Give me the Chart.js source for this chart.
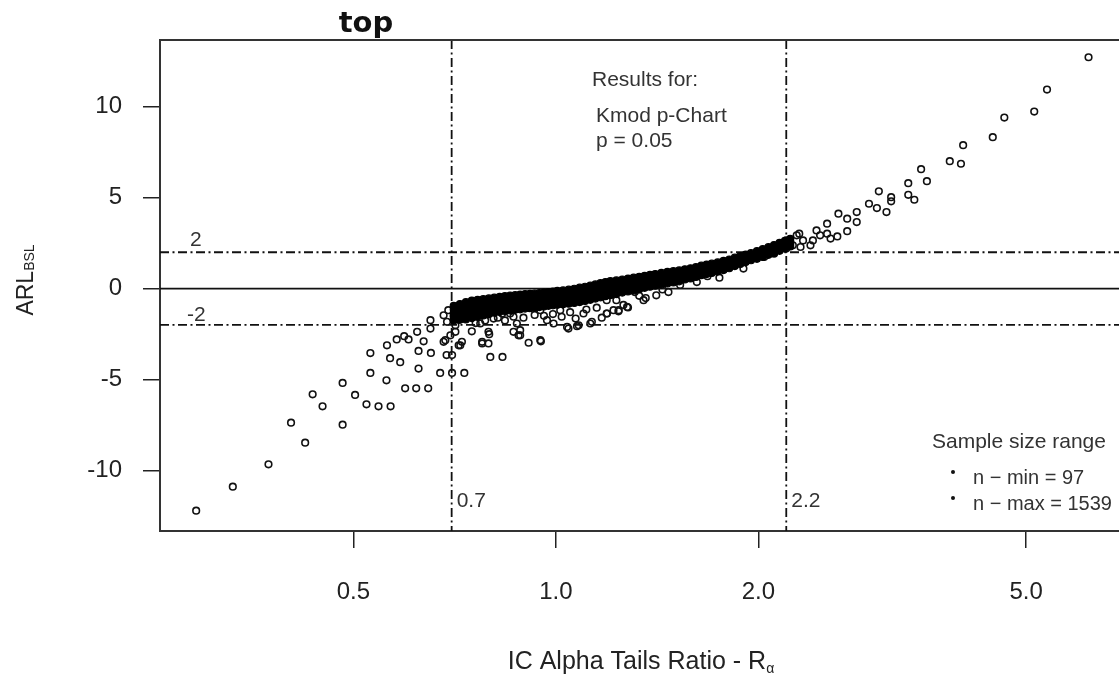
<!DOCTYPE html>
<html>
<head>
<meta charset="utf-8">
<script src="https://cdn.jsdelivr.net/npm/chart.js@4.4.1/dist/chart.umd.min.js"></script>
<style>
  html, body { margin: 0; padding: 0; background: #fff; overflow: hidden; }
  #wrap { width: 1119px; height: 681px; position: relative; }
</style>
</head>
<body>
<div id="wrap"><canvas id="scatter-chart" width="1119" height="681"></canvas></div>
<script>
// axes
const xTicks = [0.5, 1.0, 2.0, 5.0];
const yTicks = [-10, -5, 0, 5, 10];
const xLimits = [0.258, 6.87];
const yLimits = [-13.34, 13.68];
// reference lines
const refX = [0.7, 2.2];
const refY = [-2, 2];

// dense part of the cloud, one row per ratio: [x, y values...]
const bandCols = [
  [0.705, -1.75, -1.55, -1.35, -1.15, -0.95],
  [0.72, -1.72, -1.5, -1.28, -1.06, -0.85],
  [0.735, -1.7, -1.46, -1.22, -0.98, -0.75],
  [0.75, -1.62, -1.38, -1.14, -0.9, -0.66],
  [0.765, -1.55, -1.32, -1.1, -0.86, -0.62],
  [0.78, -1.48, -1.26, -1.04, -0.8, -0.58],
  [0.795, -1.4, -1.2, -0.98, -0.76, -0.54],
  [0.81, -1.33, -1.14, -0.93, -0.72, -0.5],
  [0.825, -1.28, -1.08, -0.88, -0.66, -0.46],
  [0.84, -1.24, -1.04, -0.83, -0.62, -0.42],
  [0.855, -1.2, -1.0, -0.8, -0.6, -0.38],
  [0.87, -1.17, -0.98, -0.77, -0.56, -0.36],
  [0.885, -1.14, -0.95, -0.74, -0.53, -0.33],
  [0.90, -1.1, -0.92, -0.72, -0.5, -0.3],
  [0.915, -1.08, -0.89, -0.69, -0.48, -0.29],
  [0.93, -1.05, -0.86, -0.66, -0.46, -0.27],
  [0.945, -1.02, -0.83, -0.63, -0.44, -0.25],
  [0.96, -0.98, -0.8, -0.6, -0.41, -0.22],
  [0.975, -0.95, -0.77, -0.57, -0.38, -0.19],
  [0.99, -0.92, -0.74, -0.54, -0.35, -0.16],
  [1.005, -0.89, -0.71, -0.51, -0.32, -0.13],
  [1.025, -0.86, -0.6, -0.34, -0.1],
  [1.045, -0.83, -0.57, -0.31, -0.06],
  [1.065, -0.79, -0.53, -0.27, -0.01],
  [1.085, -0.74, -0.48, -0.22, 0.05],
  [1.105, -0.68, -0.42, -0.16, 0.1],
  [1.125, -0.62, -0.36, -0.1, 0.16],
  [1.145, -0.55, -0.3, -0.04, 0.23],
  [1.165, -0.48, -0.23, 0.04, 0.3],
  [1.185, -0.42, -0.17, 0.1, 0.36],
  [1.205, -0.36, -0.11, 0.16, 0.41],
  [1.23, -0.3, -0.05, 0.2, 0.45],
  [1.255, -0.22, 0.02, 0.26, 0.5],
  [1.28, -0.16, 0.08, 0.32, 0.55],
  [1.305, -0.1, 0.14, 0.38, 0.6],
  [1.33, -0.04, 0.2, 0.44, 0.65],
  [1.355, 0.04, 0.26, 0.48, 0.7],
  [1.38, 0.1, 0.32, 0.54, 0.75],
  [1.405, 0.16, 0.38, 0.6, 0.8],
  [1.435, 0.22, 0.44, 0.66, 0.86],
  [1.465, 0.28, 0.5, 0.72, 0.92],
  [1.495, 0.34, 0.56, 0.77, 0.96],
  [1.525, 0.4, 0.62, 0.82, 1.0],
  [1.555, 0.5, 0.68, 0.88, 1.06],
  [1.585, 0.56, 0.74, 0.94, 1.12],
  [1.615, 0.64, 0.8, 1.0, 1.18],
  [1.645, 0.74, 0.9, 1.08, 1.26],
  [1.675, 0.8, 0.96, 1.14, 1.32],
  [1.705, 0.86, 1.02, 1.2, 1.37],
  [1.74, 0.94, 1.1, 1.27, 1.44],
  [1.775, 1.02, 1.18, 1.35, 1.52],
  [1.81, 1.12, 1.27, 1.44, 1.6],
  [1.845, 1.24, 1.38, 1.54, 1.7],
  [1.88, 1.36, 1.5, 1.64, 1.79],
  [1.915, 1.46, 1.6, 1.74, 1.87],
  [1.95, 1.56, 1.68, 1.82, 1.95],
  [1.99, 1.64, 1.78, 1.93, 2.06],
  [2.03, 1.74, 1.88, 2.03, 2.17],
  [2.07, 1.86, 1.99, 2.14, 2.28],
  [2.11, 1.96, 2.1, 2.25, 2.4],
  [2.15, 2.08, 2.22, 2.37, 2.52],
  [2.19, 2.2, 2.34, 2.49, 2.63],
  [2.23, 2.32, 2.46, 2.6, 2.74]
];

// single (hollow) points: [x, y]
const lowPts = [
  [0.292, -12.22], [0.331, -10.9], [0.374, -9.67], [0.404, -7.38], [0.424, -8.48],
  [0.435, -5.82], [0.450, -6.48], [0.482, -5.19], [0.482, -7.49], [0.503, -5.85],
  [0.523, -6.37], [0.545, -6.48], [0.568, -6.48], [0.530, -3.55], [0.530, -4.64],
  [0.560, -5.05], [0.561, -3.12], [0.567, -3.83], [0.587, -4.05], [0.580, -2.80],
  [0.595, -2.62], [0.604, -2.80], [0.597, -5.49], [0.620, -5.49], [0.646, -5.49],
  [0.625, -3.43], [0.625, -4.40], [0.652, -3.54], [0.673, -4.64], [0.701, -4.64],
  [0.731, -4.64], [0.688, -3.66], [0.701, -3.66], [0.636, -2.90], [0.622, -2.38],
  [0.651, -2.20], [0.681, -2.93], [0.717, -3.12], [0.799, -3.76], [0.833, -3.76],
  [0.796, -2.51], [0.777, -3.02], [0.911, -2.98], [0.950, -2.90], [0.865, -2.38],
  [0.885, -2.57], [0.750, -2.35], [1.039, -2.11], [1.081, -2.02], [1.125, -1.92],
  [1.191, -1.37], [1.239, -1.25], [1.276, -1.01],
  [0.651, -1.74], [0.681, -1.47], [0.692, -1.19], [0.709, -2.02], [0.697, -2.57],
  [0.721, -3.12], [0.689, -1.83], [0.685, -2.84], [0.709, -2.38], [0.705, -1.47],
  [0.725, -2.93], [0.729, -1.10], [0.772, -1.92], [0.794, -2.38], [0.777, -2.93],
  [0.794, -3.02], [0.808, -1.65], [0.832, -1.37], [0.855, -1.37], [0.875, -1.92],
  [0.885, -2.29], [0.880, -2.57], [0.948, -2.84], [0.970, -1.74], [0.992, -1.92],
  [1.044, -2.20], [1.075, -2.07], [1.099, -1.37], [1.131, -1.83], [1.218, -1.19],
  [1.015, -1.19], [0.916, -1.01], [0.948, -1.19], [0.799, -1.19],
  [0.76, -1.9], [0.785, -1.75], [0.82, -1.6], [0.84, -1.75], [0.865, -1.55],
  [0.895, -1.6], [0.93, -1.45], [0.96, -1.5], [0.99, -1.4], [1.02, -1.55],
  [1.05, -1.3], [1.07, -1.65], [1.11, -1.15], [1.15, -1.05], [1.17, -1.6],
  [1.26, -0.9], [1.33, -0.4], [1.44, -0.05], [1.53, 0.2], [1.75, 0.6], [1.9, 1.1],
  [1.62, 0.36], [1.47, -0.19], [1.41, -0.37], [1.35, -0.64], [1.28, -1.04],
  [1.24, -1.19], [1.19, -1.37], [1.23, -0.64], [1.19, -0.64], [1.31, -0.19],
  [1.68, 0.68], [1.36, -0.52]
];

const highPts = [
  [6.19, 12.73], [5.37, 10.95], [5.14, 9.74], [4.64, 9.41], [4.46, 8.33],
  [4.03, 7.89], [3.85, 7.01], [4.00, 6.87], [3.49, 6.57], [3.56, 5.91],
  [3.34, 5.80], [3.34, 5.16], [3.41, 4.89], [3.15, 5.03], [3.15, 4.80],
  [3.02, 5.35], [2.92, 4.67], [3.00, 4.43], [3.10, 4.21], [2.80, 4.21],
  [2.71, 3.85], [2.80, 3.66], [2.71, 3.16], [2.63, 4.12], [2.62, 2.87],
  [2.53, 3.02], [2.53, 3.57], [2.56, 2.75], [2.44, 3.20], [2.47, 2.93],
  [2.41, 2.65], [2.30, 3.02], [2.33, 2.65], [2.39, 2.38], [2.31, 2.29],
  [2.20, 2.65], [2.20, 2.20], [2.11, 1.92], [2.04, 1.74], [2.00, 2.01],
  [2.28, 2.93], [2.25, 2.38]
];

const FONT = "'Liberation Sans', Arial, sans-serif";

function drawAnnotations() {
  return {
    id: 'annotations',
    beforeDatasetsDraw(chart) {
      const { ctx, chartArea: a, scales: { x, y } } = chart;
      ctx.save();
      ctx.beginPath();
      ctx.rect(a.left, a.top, a.right - a.left, a.bottom - a.top);
      ctx.clip();
      ctx.strokeStyle = '#111';
      ctx.lineWidth = 1.8;

      const y0 = y.getPixelForValue(0);
      ctx.beginPath();
      ctx.moveTo(a.left, y0);
      ctx.lineTo(a.right, y0);
      ctx.stroke();

      ctx.setLineDash([9, 3.5, 2, 3.5]);
      refY.forEach(v => {
        const p = y.getPixelForValue(v);
        ctx.beginPath();
        ctx.moveTo(a.left, p);
        ctx.lineTo(a.right, p);
        ctx.stroke();
      });
      refX.forEach(v => {
        const p = x.getPixelForValue(v);
        ctx.beginPath();
        ctx.moveTo(p, a.top);
        ctx.lineTo(p, a.bottom);
        ctx.stroke();
      });
      ctx.restore();
    },
    afterDraw(chart) {
      const { ctx, chartArea: a, scales: { x, y } } = chart;
      ctx.save();

      // top of the box
      ctx.strokeStyle = '#333';
      ctx.lineWidth = 2;
      ctx.beginPath();
      ctx.moveTo(a.left - 1, a.top);
      ctx.lineTo(a.right, a.top);
      ctx.stroke();

      // title
      ctx.fillStyle = '#111';
      ctx.font = "bold 29px 'DejaVu Sans', sans-serif";
      ctx.textAlign = 'center';
      ctx.textBaseline = 'alphabetic';
      ctx.fillText('top', 366, 32);

      // labels for reference lines
      ctx.fillStyle = '#333';
      ctx.font = '21px ' + FONT;
      ctx.textAlign = 'left';
      ctx.fillText('2', 190, y.getPixelForValue(2) - 6);
      ctx.fillText('-2', 187, y.getPixelForValue(-2) - 4);
      refX.forEach(v => {
        ctx.fillText(String(v), x.getPixelForValue(v) + 5, 507);
      });

      // text block
      ctx.fillText('Results for:', 592, 86);
      ctx.fillText('Kmod p-Chart', 596, 122);
      ctx.fillText('p = 0.05', 596, 147);

      // sample size note
      ctx.fillText('Sample size range', 932, 448);
      ctx.font = '20px ' + FONT;
      ctx.fillText('n \u2212 min = 97', 973, 484);
      ctx.fillText('n \u2212 max = 1539', 973, 510);
      ctx.fillStyle = '#111';
      [472, 498].forEach(py => {
        ctx.beginPath();
        ctx.arc(953, py, 2, 0, Math.PI * 2);
        ctx.fill();
      });

      // x axis title with subscript
      ctx.fillStyle = '#222';
      const xt = 'IC Alpha Tails Ratio - R';
      ctx.font = '25px ' + FONT;
      const w1 = ctx.measureText(xt).width;
      ctx.font = '14px ' + FONT;
      const w2 = ctx.measureText('\u03b1').width;
      const sx = 641 - (w1 + w2) / 2;
      ctx.font = '25px ' + FONT;
      ctx.fillText(xt, sx, 669);
      ctx.font = '14px ' + FONT;
      ctx.fillText('\u03b1', sx + w1, 673);

      // y axis title with subscript
      ctx.translate(24, 280);
      ctx.rotate(-Math.PI / 2);
      ctx.font = '23px ' + FONT;
      const v1 = ctx.measureText('ARL').width;
      ctx.font = '14px ' + FONT;
      const v2 = ctx.measureText('BSL').width;
      const sy = -(v1 + v2) / 2;
      ctx.font = '23px ' + FONT;
      ctx.fillText('ARL', sy, 9);
      ctx.font = '14px ' + FONT;
      ctx.fillText('BSL', sy + v1, 10);

      ctx.restore();
    }
  };
}

const bandPts = [];
bandCols.forEach(row => {
  row.slice(1).forEach(v => bandPts.push({ x: row[0], y: v }));
});
const singlePts = lowPts.concat(highPts).map(p => ({ x: p[0], y: p[1] }));

const ctx = document.getElementById('scatter-chart').getContext('2d');
const myChart = new Chart(ctx, {
  type: 'scatter',
  data: {
    datasets: [{
      label: 'dense',
      data: bandPts,
      pointStyle: 'circle',
      pointRadius: 3.5,
      pointBorderWidth: 1.2,
      pointBorderColor: '#000',
      pointBackgroundColor: '#000'
    }, {
      label: 'points',
      data: singlePts,
      pointStyle: 'circle',
      pointRadius: 3.3,
      pointBorderWidth: 1.6,
      pointBorderColor: '#111',
      pointBackgroundColor: 'rgba(0,0,0,0)'
    }]
  },
  options: {
    responsive: false,
    animation: false,
    events: [],
    layout: { autoPadding: false, padding: { top: 40, left: 0, right: 0, bottom: 0 } },
    plugins: {
      legend: { display: false },
      tooltip: { enabled: false }
    },
    scales: {
      x: {
        type: 'logarithmic',
        min: xLimits[0],
        max: xLimits[1],
        bounds: 'data',
        afterBuildTicks: s => { s.ticks = xTicks.map(v => ({ value: v })); },
        afterFit: s => { s.height = 150; },
        grid: { drawOnChartArea: false, drawTicks: true, tickLength: 17, color: '#222', lineWidth: 1.5 },
        border: { display: true, color: '#333', width: 2 },
        ticks: {
          autoSkip: false,
          maxRotation: 0,
          padding: 30,
          color: '#222',
          font: { family: FONT, size: 24 },
          callback: v => Number(v).toFixed(1)
        }
      },
      y: {
        type: 'linear',
        min: yLimits[0],
        max: yLimits[1],
        afterBuildTicks: s => { s.ticks = yTicks.map(v => ({ value: v })); },
        afterFit: s => { s.width = 160; },
        grid: { drawOnChartArea: false, drawTicks: true, tickLength: 17, color: '#222', lineWidth: 1.5 },
        border: { display: true, color: '#333', width: 2 },
        ticks: {
          padding: 21,
          color: '#222',
          font: { family: FONT, size: 24 },
          callback: v => String(v)
        }
      }
    }
  },
  plugins: [drawAnnotations()]
});
</script>
</body>
</html>
